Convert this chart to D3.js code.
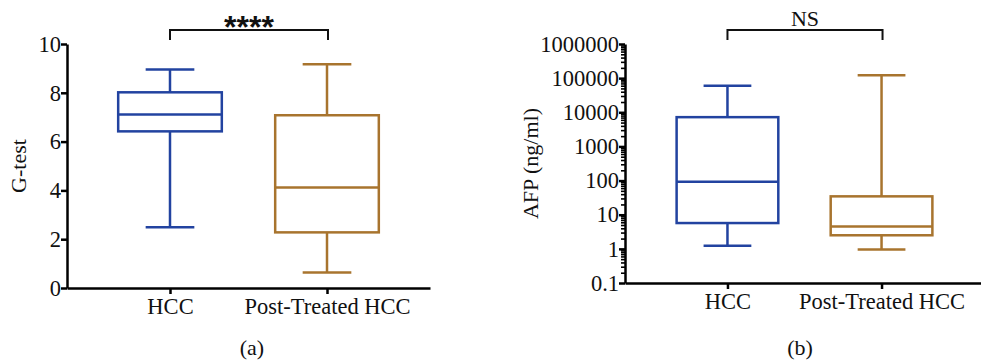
<!DOCTYPE html>
<html lang="en">
<head>
<meta charset="UTF-8">
<title>G-test and AFP box plots</title>
<script src="https://d3js.org/d3.v7.min.js"></script>
<style>
    body { margin: 0; background: #fff; }
    svg { display: block; }
    .axis path, .axis line { stroke: #000; stroke-width: 2.5; }
    .minor line { stroke: #000; stroke-width: 1.6; }
    .label { font-size: 22px; fill: #111; font-family: "Liberation Serif", serif; }
</style>
</head>
<body>
<svg width="981" height="361"></svg>
<script>
    const categories = ["HCC", "Post-Treated HCC"];
    const colors = ["#2243a0", "#a8742e"];

    // box stats: [min, q1, median, q3, max]
    const gtestStats = [
        [2.49, 6.42, 7.11, 8.02, 8.95],
        [0.64, 2.28, 4.12, 7.08, 9.17]
    ];
    const afpStats = [
        [1.23, 5.7, 93, 7200, 60000],
        [0.95, 2.5, 4.5, 34.5, 122000]
    ];
    const gtestTicks = [0, 2, 4, 6, 8, 10];
    const afpTicks = [0.1, 1, 10, 100, 1000, 10000, 100000, 1000000];

    const svg = d3.select("svg");

    function styleAxis(sel) {
        sel.selectAll("text")
            .style("font-family", "'Liberation Serif', serif")
            .style("font-size", "22.5px")
            .style("fill", "#111");
    }

    function drawPanel(opt) {
        const g = svg.append("g");
        const x = d3.scalePoint().domain(categories).range([opt.left, opt.right]).padding(opt.pad);
        const y = opt.y;
        const step = x.step();
        const boxW = step * 0.66, capW = step * 0.31;

        // y axis
        g.append("g").attr("class", "axis")
            .attr("transform", `translate(${opt.left},0)`)
            .call(d3.axisLeft(y).tickValues(opt.ticks).tickSize(6).tickSizeOuter(0).tickPadding(0)
                .tickFormat(opt.fmt))
            .call(styleAxis);

        if (opt.minor) {
            g.append("g").attr("class", "axis minor")
                .attr("transform", `translate(${opt.left},0)`)
                .call(d3.axisLeft(y).tickValues(opt.minor).tickSize(4).tickFormat(""))
                .select(".domain").remove();
        }

        // x axis
        g.append("g").attr("class", "axis")
            .attr("transform", `translate(0,${y.range()[0]})`)
            .call(d3.axisBottom(x).tickSize(6).tickSizeOuter(0).tickPadding(4))
            .call(styleAxis);

        // boxes
        opt.stats.forEach((s, i) => {
            const cx = x(categories[i]);
            const b = g.append("g").attr("stroke", colors[i]).attr("stroke-width", 2.5).attr("fill", "none");
            b.append("line").attr("x1", cx).attr("x2", cx).attr("y1", y(s[0])).attr("y2", y(s[1]));
            b.append("line").attr("x1", cx).attr("x2", cx).attr("y1", y(s[3])).attr("y2", y(s[4]));
            b.append("line").attr("x1", cx - capW / 2).attr("x2", cx + capW / 2).attr("y1", y(s[0])).attr("y2", y(s[0]));
            b.append("line").attr("x1", cx - capW / 2).attr("x2", cx + capW / 2).attr("y1", y(s[4])).attr("y2", y(s[4]));
            b.append("rect").attr("x", cx - boxW / 2).attr("width", boxW)
                .attr("y", y(s[3])).attr("height", y(s[1]) - y(s[3]));
            b.append("line").attr("x1", cx - boxW / 2).attr("x2", cx + boxW / 2).attr("y1", y(s[2])).attr("y2", y(s[2]));
        });

        // significance bracket
        const x1 = x(categories[0]), x2 = x(categories[1]) + 1;
        const top = y.range()[1] - 14;
        g.append("path")
            .attr("d", `M${x1},${top + 10}V${top}H${x2}V${top + 10}`)
            .attr("fill", "none").attr("stroke", "#111").attr("stroke-width", 2);
        g.append("text")
            .attr("x", (x1 + x2) / 2).attr("y", top + opt.sigDy)
            .attr("text-anchor", "middle").attr("fill", "#111")
            .style("font-family", opt.sigFont).style("font-size", opt.sigSize).style("font-weight", opt.sigWeight)
            .text(opt.sig);

        // y label
        g.append("text").attr("class", "label")
            .attr("transform", `translate(${opt.ylabX},${(y.range()[0] + y.range()[1]) / 2}) rotate(-90)`)
            .attr("text-anchor", "middle").attr("dy", "0.35em")
            .text(opt.ylab);

        // caption
        g.append("text").attr("class", "label")
            .attr("x", opt.capX).attr("y", 355)
            .attr("text-anchor", "middle")
            .text(opt.caption);
    }

    drawPanel({
        left: 67, right: 430, pad: 0.656,
        y: d3.scaleLinear().domain([0, 10]).range([288, 44]),
        ticks: gtestTicks, fmt: d3.format("d"),
        stats: gtestStats,
        sig: "****", sigFont: "'Liberation Sans', Arial, sans-serif", sigSize: "32px", sigWeight: "bold", sigDy: 8,
        ylab: "G-test", ylabX: 18, caption: "(a)", capX: 252
    });

    const minorTicks = [];
    for (let e = -1; e < 6; e++) for (let m = 2; m < 10; m++) minorTicks.push(m * Math.pow(10, e));

    drawPanel({
        left: 625, right: 984, pad: 0.665,
        y: d3.scaleLog().domain([0.1, 1000000]).range([283, 44]),
        ticks: afpTicks, fmt: d => d < 1 ? "0.1" : d3.format("d")(d),
        minor: minorTicks,
        stats: afpStats,
        sig: "NS", sigFont: "'Liberation Serif', serif", sigSize: "22px", sigWeight: "normal", sigDy: -4,
        ylab: "AFP (ng/ml)", ylabX: 530, caption: "(b)", capX: 800
    });
</script>
</body>
</html>
